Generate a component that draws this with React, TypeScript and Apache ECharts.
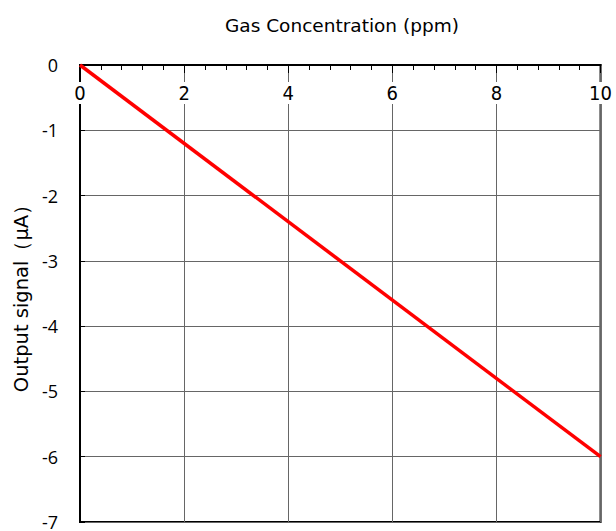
import React, { useEffect, useRef } from "react";
import * as echarts from "echarts";

const concentration = [0, 10];
const signal = [0, -6];
const xTitle = "Gas Concentration (ppm)";
const yTitle = "Output signal（μA）";

export default function App() {
  const ref = useRef<HTMLDivElement>(null);
  useEffect(() => {
    const chart = echarts.init(ref.current!, null, { renderer: "svg" });
    chart.setOption({
      animation: false,
      backgroundColor: "#fff",
      title: {
        text: xTitle,
        left: 220,
        top: 11,
        textStyle: { fontSize: 18.5, fontWeight: "normal", color: "#000", fontFamily: "DejaVu Sans" },
      },
      grid: {
        left: 80,
        right: 6,
        top: 65,
        bottom: 6,
        show: true,
        borderColor: "#000",
        borderWidth: 2,
        backgroundColor: "transparent",
      },
      xAxis: {
        type: "value",
        position: "top",
        min: 0,
        max: 10,
        interval: 2,
        axisLine: { show: true, lineStyle: { color: "#000", width: 2 } },
        axisTick: { show: true, inside: true, length: 8, lineStyle: { color: "#000" } },
        minorTick: { show: true, splitNumber: 5, length: 5, lineStyle: { color: "#000" } },
        splitLine: { show: true, lineStyle: { color: "#666", width: 1 } },
        axisLabel: {
          inside: true,
          margin: 17,
          fontSize: 20,
          color: "#000",
          fontFamily: "DejaVu Sans Condensed, Noto Sans CJK JP",
          backgroundColor: "#fff",
          padding: [1, 1],
        },
      },
      yAxis: {
        type: "value",
        min: -7,
        max: 0,
        interval: 1,
        name: yTitle,
        nameLocation: "middle",
        nameGap: 41,
        nameTextStyle: { fontSize: 19.5, color: "#000", fontFamily: "DejaVu Sans" },
        axisLine: { show: true, lineStyle: { color: "#000", width: 2 } },
        axisTick: { show: true, inside: true, length: 5, lineStyle: { color: "#000" } },
        splitLine: { show: true, lineStyle: { color: "#666", width: 1 } },
        axisLabel: {
          margin: 22,
          fontSize: 18,
          color: "#000",
          fontFamily: "Open Sans",
        },
      },
      series: [
        {
          type: "line",
          data: concentration.map((x, i) => [x, signal[i]]),
          showSymbol: false,
          symbol: "none",
          lineStyle: { color: "#ff0000", width: 3.5 },
          z: 10,
        },
      ],
    });
    return () => chart.dispose();
  }, []);
  return <div ref={ref} style={{ width: 616, height: 531, position: "absolute", left: 0, top: 0 }} />;
}
